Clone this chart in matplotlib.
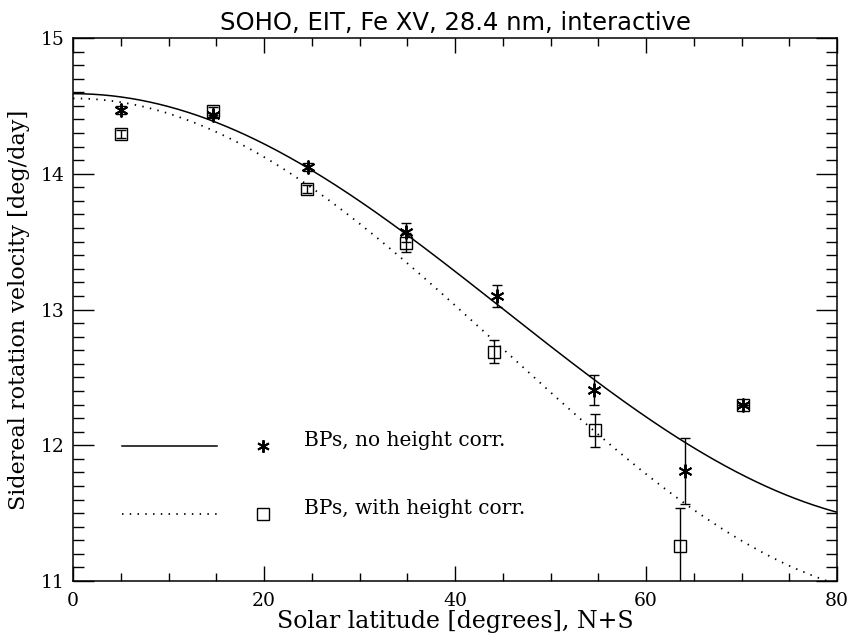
import numpy as np
import matplotlib
matplotlib.use("Agg")
import matplotlib.pyplot as plt
from matplotlib.ticker import MultipleLocator

# fit parameters: omega = A + B sin^2(lat) + C sin^4(lat)
fit_no_corr = [14.59, -3.16, -0.02]
fit_with_corr = [14.555, -3.69, 0.0]

# measured points (latitude, velocity, error)
lat_no_corr = [5.0, 14.7, 24.6, 34.9, 44.4, 54.5, 64.1, 70.1]
vel_no_corr = [14.47, 14.43, 14.05, 13.57, 13.10, 12.41, 11.81, 12.30]
err_no_corr = [0.03, 0.02, 0.03, 0.07, 0.08, 0.11, 0.24, 0.0]

lat_with_corr = [5.0, 14.7, 24.5, 34.9, 44.1, 54.7, 63.5, 70.1]
vel_with_corr = [14.29, 14.46, 13.89, 13.49, 12.69, 12.11, 11.26, 12.30]
err_with_corr = [0.03, 0.03, 0.03, 0.07, 0.085, 0.12, 0.28, 0.0]

labels = ["BPs, no height corr.", "BPs, with height corr."]

plt.rcParams['font.family'] = ['DejaVu Serif']

fig = plt.figure(figsize=(8.49, 6.41), dpi=100)
ax = fig.add_axes([0.086, 0.0936, 0.9, 0.8471])

lat = np.linspace(0, 80, 400)
s2 = np.sin(np.radians(lat)) ** 2
A, B, C = fit_no_corr
ax.plot(lat, A + B * s2 + C * s2 ** 2, color='black', lw=1.1)
A, B, C = fit_with_corr
ax.plot(lat, A + B * s2 + C * s2 ** 2, color='black', lw=1.3,
        linestyle=(0, (0.8, 3.5)))

star = (6, 2, 0)
ax.errorbar(lat_no_corr, vel_no_corr, yerr=err_no_corr, fmt='none',
            ecolor='black', elinewidth=1.0, capsize=3.5, capthick=1.0)
ax.plot(lat_no_corr, vel_no_corr, linestyle='none', marker=star,
        markersize=10, color='black', markeredgewidth=1.4)
ax.errorbar(lat_with_corr, vel_with_corr, yerr=err_with_corr, fmt='none',
            ecolor='black', elinewidth=1.0, capsize=3.5, capthick=1.0)
ax.plot(lat_with_corr, vel_with_corr, linestyle='none', marker='s',
        markersize=8.5, markerfacecolor='none', markeredgecolor='black',
        markeredgewidth=1.0)

# hand-made legend inside the plot
tr = ax.transAxes
ax.plot([0.064, 0.188], [0.249, 0.249], color='black', lw=1.1, transform=tr)
ax.plot([0.249], [0.249], marker=star, markersize=9, color='black',
        markeredgewidth=1.4, transform=tr)
ax.text(0.302, 0.259, labels[0], transform=tr, fontsize=14.5, va='center')
ax.plot([0.064, 0.188], [0.123, 0.123], color='black', lw=1.3,
        linestyle=(0, (0.8, 3.5)), transform=tr)
ax.plot([0.249], [0.123], marker='s', markersize=8, markerfacecolor='none',
        markeredgecolor='black', markeredgewidth=1.0, transform=tr)
ax.text(0.302, 0.133, labels[1], transform=tr, fontsize=14.5, va='center')

ax.set_xlim(0, 80)
ax.set_ylim(11, 15)
ax.xaxis.set_major_locator(MultipleLocator(20))
ax.xaxis.set_minor_locator(MultipleLocator(5))
ax.yaxis.set_major_locator(MultipleLocator(1))
ax.yaxis.set_minor_locator(MultipleLocator(0.1))
ax.tick_params(axis='both', which='both', direction='in', top=True,
               right=True, width=1.0, labelsize=13.5)
ax.tick_params(axis='x', which='major', direction='in', length=11, pad=8)
ax.tick_params(axis='x', which='minor', direction='in', length=6)
ax.tick_params(axis='y', which='major', direction='in', length=15, pad=6)
ax.tick_params(axis='y', which='minor', direction='in', length=8)
for sp in ax.spines.values():
    sp.set_linewidth(1.1)

ax.set_title("SOHO, EIT, Fe XV, 28.4 nm, interactive", fontsize=17.5,
             family='DejaVu Sans', pad=6)
ax.set_xlabel("Solar latitude [degrees], N+S", fontsize=17, labelpad=0)
ax.set_ylabel("Sidereal rotation velocity [deg/day]", fontsize=16,
              labelpad=8)

fig.savefig("out.png", dpi=100)
